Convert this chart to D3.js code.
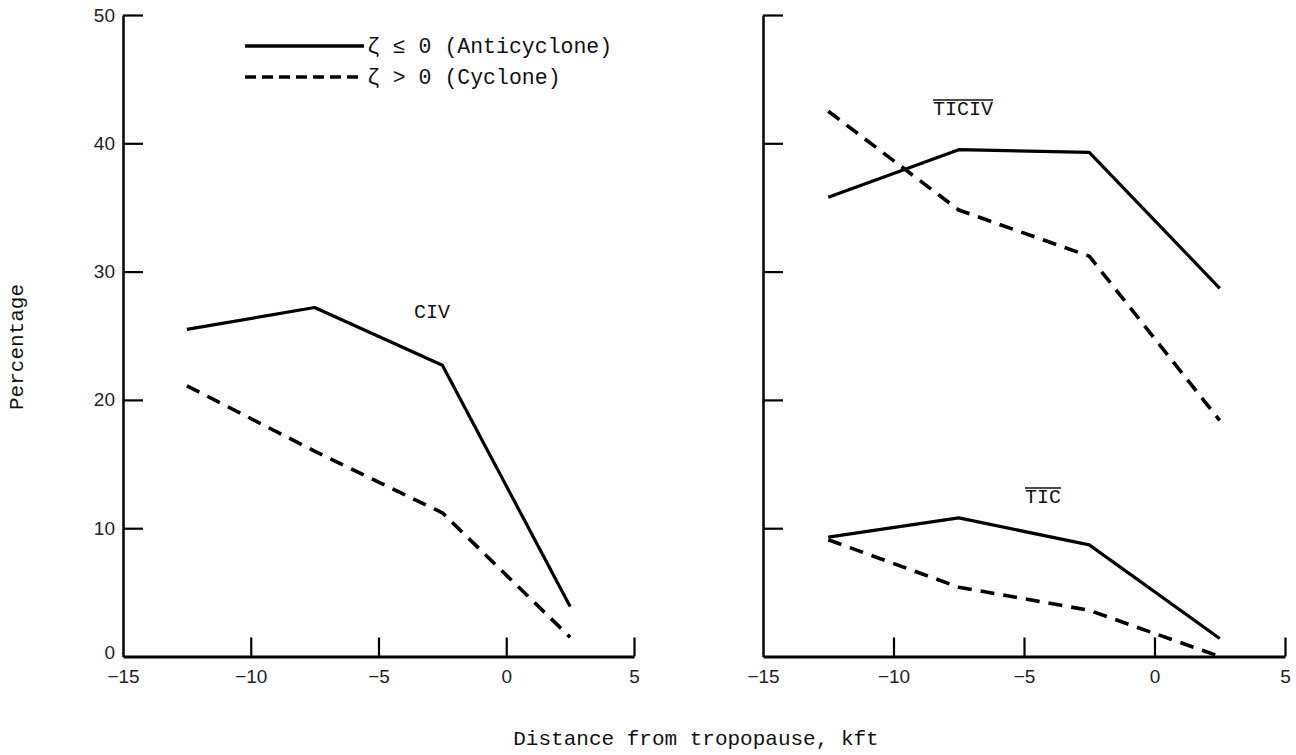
<!DOCTYPE html>
<html>
<head>
<meta charset="utf-8">
<script src="https://cdn.jsdelivr.net/npm/d3@7"></script>
<style>
  html, body { margin: 0; padding: 0; background: #fff; }
  svg { display: block; }
</style>
</head>
<body>
<svg id="chart" width="1296" height="755"></svg>
<script>
// ---- data ----
const xTicks = [-15, -10, -5, 0, 5];
const yTicks = [0, 10, 20, 30, 40, 50];
const layers = [-12.5, -7.5, -2.5, 2.5];

const civAnticyclone   = [25.5, 27.2, 22.7, 3.9];
const civCyclone       = [21.1, 16.0, 11.2, 1.5];
const ticivAnticyclone = [35.8, 39.5, 39.3, 28.7];
const ticivCyclone     = [42.5, 34.8, 31.2, 18.4];
const ticAnticyclone   = [9.3, 10.8, 8.7, 1.4];
const ticCyclone       = [9.1, 5.4, 3.6, 0.0];

const legendLabels = ["ζ ≤ 0 (Anticyclone)", "ζ > 0 (Cyclone)"];
const xTitle = "Distance from tropopause, kft";
const yTitle = "Percentage";

// ---- layout ----
const svg = d3.select("#chart");
const mono = "'Liberation Mono', 'Courier New', monospace";
const sans = "'Liberation Sans', Arial, sans-serif";
const dash = "14,9";

const y = d3.scaleLinear().domain([0, 50]).range([656.5, 15]);
const xL = d3.scaleLinear().domain([-15, 5]).range([123, 634]);
const xR = d3.scaleLinear().domain([-15, 5]).range([763, 1285]);

function drawPanel(x, showYLabels) {
  const g = svg.append("g");
  const ya = d3.axisLeft(y).tickValues(yTicks).tickSizeInner(-20).tickSizeOuter(0).tickPadding(8);
  if (!showYLabels) ya.tickFormat("");
  const gy = g.append("g").attr("transform", `translate(${x(-15)},0)`).call(ya);
  gy.select(".domain").attr("stroke", "#000").attr("stroke-width", 2.5);
  gy.selectAll(".tick line").attr("stroke", "#000").attr("stroke-width", 2.2);
  gy.selectAll(".tick").filter(d => d === 0).select("line").remove();
  gy.selectAll(".tick text").attr("font-family", sans).attr("font-size", 19).attr("fill", "#222");
  gy.selectAll(".tick").filter(d => d === 0).select("text").attr("dy", "0.1em");

  const xa = d3.axisBottom(x).tickValues(xTicks).tickSizeInner(-19).tickSizeOuter(0).tickPadding(13)
    .tickFormat(d => d < 0 ? "\u2212" + Math.abs(d) : String(d));
  const gx = g.append("g").attr("transform", `translate(0,${y(0)})`).call(xa);
  gx.select(".domain").attr("stroke", "#000").attr("stroke-width", 3.2);
  gx.selectAll(".tick line").attr("stroke", "#000").attr("stroke-width", 2.2);
  gx.selectAll(".tick").filter(d => d === -15).select("line").remove();
  gx.selectAll(".tick text").attr("font-family", sans).attr("font-size", 19).attr("fill", "#222");
  return g;
}

drawPanel(xL, true);
drawPanel(xR, false);

function series(x, vals, dashed) {
  const line = d3.line().x((d, i) => x(layers[i])).y(d => y(d));
  svg.append("path")
    .attr("d", line(vals))
    .attr("fill", "none")
    .attr("stroke", "#000")
    .attr("stroke-width", dashed ? 3.6 : 3.2)
    .attr("stroke-linejoin", "round")
    .attr("stroke-dasharray", dashed ? dash : null);
}

series(xL, civAnticyclone, false);
series(xL, civCyclone, true);
series(xR, ticivAnticyclone, false);
series(xR, ticivCyclone, true);
series(xR, ticAnticyclone, false);
series(xR, ticCyclone, true);

// ---- curve labels ----
function label(txt, cx, cy, overline) {
  const t = svg.append("text")
    .attr("x", cx).attr("y", cy)
    .attr("text-anchor", "middle")
    .attr("font-family", mono)
    .attr("font-size", 20)
    .attr("fill", "#111")
    .text(txt);
  if (overline) {
    const b = t.node().getBBox();
    svg.append("line")
      .attr("x1", b.x).attr("x2", b.x + b.width)
      .attr("y1", b.y + 2).attr("y2", b.y + 2)
      .attr("stroke", "#111").attr("stroke-width", 1.5);
  }
}
label("CIV", 432, 318, false);
label("TICIV", 963, 115, true);
label("TIC", 1043, 503, true);

// ---- legend ----
const legY = [46, 77];
legendLabels.forEach((txt, i) => {
  svg.append("line")
    .attr("x1", 245).attr("x2", 364)
    .attr("y1", legY[i]).attr("y2", legY[i])
    .attr("stroke", "#000")
    .attr("stroke-width", 3.4)
    .attr("stroke-dasharray", i === 1 ? "11,6" : null);
  svg.append("text")
    .attr("x", 367).attr("y", legY[i] + 7)
    .attr("font-family", mono)
    .attr("font-size", 21.5)
    .attr("fill", "#111")
    .text(txt);
});

// ---- axis titles ----
svg.append("text")
  .attr("x", 696).attr("y", 745)
  .attr("text-anchor", "middle")
  .attr("font-family", mono)
  .attr("font-size", 21)
  .attr("fill", "#111")
  .text(xTitle);

svg.append("text")
  .attr("transform", "translate(23,347) rotate(-90)")
  .attr("text-anchor", "middle")
  .attr("font-family", mono)
  .attr("font-size", 21)
  .attr("fill", "#111")
  .text(yTitle);
</script>
</body>
</html>
